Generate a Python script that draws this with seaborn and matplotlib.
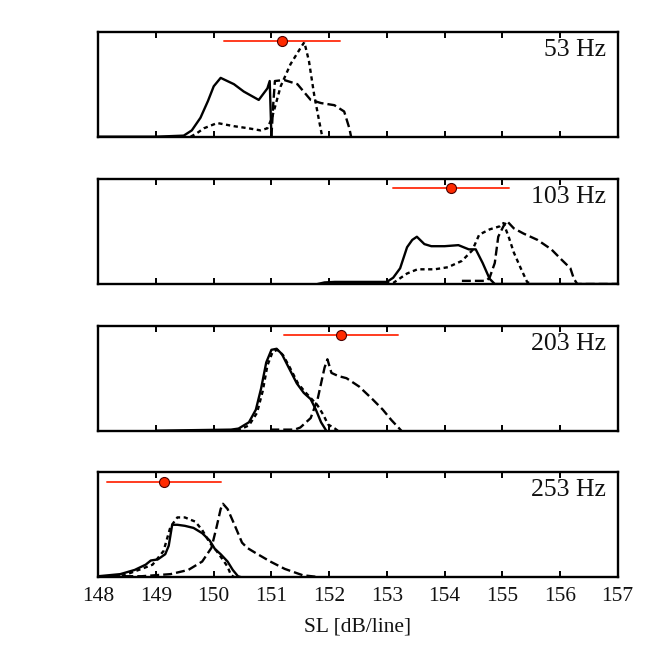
import numpy as np
import pandas as pd
import matplotlib
matplotlib.use("Agg")
import matplotlib.pyplot as plt
import matplotlib.transforms as mtransforms
import seaborn as sns

# ---------------- data ----------------
freq_labels = ["53 Hz", "103 Hz", "203 Hz", "253 Hz"]
sl_center = [151.18, 154.11, 152.21, 149.14]
sl_halfwidth = [1.0, 1.0, 0.99, 0.99]

# panel 1 (53 Hz)
p1_solid_x = [148.0, 149.0, 149.48, 149.62, 149.77, 149.9, 150.0, 150.12, 150.35, 150.52, 150.78, 150.93, 150.97, 151.0]
p1_solid_y = [0, 0, 0.01, 0.06, 0.18, 0.34, 0.48, 0.56, 0.5, 0.43, 0.35, 0.46, 0.53, 0]
p1_dot_x = [149.6, 149.7, 149.83, 150.06, 150.35, 150.6, 150.81, 150.93, 151.01, 151.16, 151.33, 151.51, 151.57, 151.65, 151.74, 151.83, 151.88]
p1_dot_y = [0, 0.03, 0.08, 0.13, 0.1, 0.08, 0.06, 0.08, 0.18, 0.48, 0.69, 0.85, 0.9, 0.72, 0.4, 0.14, 0]
p1_dash_x = [151.0, 151.03, 151.06, 151.22, 151.45, 151.68, 151.86, 152.09, 152.26, 152.35, 152.38]
p1_dash_y = [0, 0.3, 0.53, 0.54, 0.5, 0.35, 0.32, 0.3, 0.24, 0.08, 0]

# panel 2 (103 Hz)
p2_solid_x = [151.8, 151.92, 152.1, 153.0, 153.11, 153.23, 153.35, 153.44, 153.52, 153.65, 153.77, 154.0, 154.24, 154.42, 154.54, 154.66, 154.78, 154.87, 157.0]
p2_solid_y = [0, 0.015, 0.02, 0.02, 0.06, 0.15, 0.35, 0.42, 0.45, 0.38, 0.36, 0.36, 0.37, 0.33, 0.33, 0.2, 0.05, 0, 0]
p2_dot_x = [152.7, 153.11, 153.35, 153.53, 153.83, 154.06, 154.3, 154.48, 154.6, 154.78, 154.96, 155.02, 155.11, 155.2, 155.32, 155.43, 155.5]
p2_dot_y = [0, 0.01, 0.1, 0.14, 0.14, 0.16, 0.22, 0.32, 0.47, 0.52, 0.55, 0.58, 0.45, 0.3, 0.15, 0.02, 0]
p2_dash_x = [154.3, 154.72, 154.78, 154.87, 154.93, 155.02, 155.08, 155.2, 155.37, 155.61, 155.85, 156.03, 156.18, 156.24, 156.3, 157.0]
p2_dash_y = [0.03, 0.03, 0.06, 0.2, 0.45, 0.55, 0.6, 0.53, 0.48, 0.42, 0.33, 0.23, 0.15, 0.05, 0, 0]

# panel 3 (203 Hz)
p3_solid_x = [149.0, 150.3, 150.43, 150.61, 150.73, 150.82, 150.91, 151.0, 151.09, 151.18, 151.3, 151.44, 151.56, 151.68, 151.77, 151.86, 151.95]
p3_solid_y = [0, 0.01, 0.02, 0.08, 0.2, 0.4, 0.65, 0.77, 0.78, 0.73, 0.6, 0.45, 0.36, 0.3, 0.2, 0.08, 0]
p3_dot_x = [150.4, 150.61, 150.75, 150.85, 150.93, 151.02, 151.1, 151.2, 151.32, 151.46, 151.58, 151.7, 151.8, 151.9, 151.98, 152.1, 152.15]
p3_dot_y = [0, 0.05, 0.17, 0.38, 0.62, 0.75, 0.77, 0.72, 0.6, 0.45, 0.37, 0.3, 0.24, 0.15, 0.06, 0.02, 0]
p3_dash_x = [150.98, 151.4, 151.5, 151.68, 151.8, 151.92, 151.97, 152.04, 152.16, 152.3, 152.52, 152.75, 152.93, 153.08, 153.2, 153.25]
p3_dash_y = [0.01, 0.01, 0.03, 0.12, 0.3, 0.6, 0.68, 0.55, 0.52, 0.5, 0.42, 0.3, 0.2, 0.1, 0.03, 0]

# panel 4 (253 Hz)
p4_solid_x = [148.0, 148.38, 148.63, 148.82, 148.91, 149.03, 149.16, 149.22, 149.28, 149.37, 149.5, 149.65, 149.8, 149.93, 150.02, 150.12, 150.24, 150.33, 150.42, 150.48]
p4_solid_y = [0.01, 0.03, 0.07, 0.12, 0.16, 0.17, 0.22, 0.3, 0.5, 0.5, 0.49, 0.47, 0.42, 0.35, 0.27, 0.22, 0.15, 0.07, 0.01, 0]
p4_dot_x = [148.0, 148.45, 148.75, 148.94, 149.13, 149.25, 149.37, 149.5, 149.68, 149.8, 149.93, 150.05, 150.18, 150.24, 150.3, 150.36]
p4_dot_y = [0, 0.02, 0.08, 0.12, 0.25, 0.48, 0.57, 0.57, 0.53, 0.45, 0.33, 0.25, 0.15, 0.1, 0.02, 0]
p4_dash_x = [148.0, 148.75, 149.25, 149.56, 149.8, 149.96, 150.05, 150.12, 150.16, 150.24, 150.36, 150.49, 150.58, 150.73, 150.98, 151.23, 151.54, 151.85, 152.3]
p4_dash_y = [0.01, 0.01, 0.03, 0.07, 0.15, 0.28, 0.48, 0.65, 0.7, 0.65, 0.5, 0.33, 0.28, 0.23, 0.15, 0.08, 0.02, 0, 0]

x_ticks = [148, 149, 150, 151, 152, 153, 154, 155, 156, 157]
x_label = "SL [dB/line]"

panels = [
    (p1_solid_x, p1_solid_y, p1_dot_x, p1_dot_y, p1_dash_x, p1_dash_y),
    (p2_solid_x, p2_solid_y, p2_dot_x, p2_dot_y, p2_dash_x, p2_dash_y),
    (p3_solid_x, p3_solid_y, p3_dot_x, p3_dot_y, p3_dash_x, p3_dash_y),
    (p4_solid_x, p4_solid_y, p4_dot_x, p4_dot_y, p4_dash_x, p4_dash_y),
]

# ---------------- style ----------------
sns.set_theme(style="white")
plt.rcParams["font.family"] = ["Liberation Serif", "DejaVu Serif"]

fig = plt.figure(figsize=(6.72, 6.49), dpi=100)
ax_left, ax_width = 0.1463, 0.7729
ax_bottoms = [0.7894, 0.5624, 0.3364, 0.1105]
ax_height = 0.1618

dash_map = {"solid": "", "dotted": (1.8, 1.5), "dashed": (3.8, 1.7)}

for i, (sx, sy, dx, dy, hx, hy) in enumerate(panels):
    ax = fig.add_axes([ax_left, ax_bottoms[i], ax_width, ax_height])
    df = pd.concat([
        pd.DataFrame({"SL": sx, "p": sy, "kind": "solid"}),
        pd.DataFrame({"SL": dx, "p": dy, "kind": "dotted"}),
        pd.DataFrame({"SL": hx, "p": hy, "kind": "dashed"}),
    ], ignore_index=True)
    sns.lineplot(data=df, x="SL", y="p", style="kind", dashes=dash_map,
                 color="black", linewidth=1.7, sort=False, estimator=None,
                 legend=False, ax=ax)

    trans = mtransforms.blended_transform_factory(ax.transData, ax.transAxes)
    c, hw = sl_center[i], sl_halfwidth[i]
    ax.plot([c - hw, c + hw], [0.91, 0.91], color="#ff3b1f", lw=1.4,
            transform=trans, zorder=5, clip_on=False)
    ax.plot([c], [0.91], marker="o", ms=7.2, mfc="#ff2a00", mec="#4a0000",
            mew=0.8, transform=trans, zorder=6, clip_on=False)

    ax.text(0.9775, 0.83, freq_labels[i], transform=ax.transAxes,
            ha="right", va="center", fontsize=18.5, color="#111111")

    ax.set_xlim(148, 157)
    ax.set_ylim(0, 1)
    ax.set_xticks(x_ticks)
    ax.set_yticks([])
    ax.tick_params(axis="x", direction="in", top=True, bottom=True,
                   length=4, width=1.4, color="black", labelsize=15.5,
                   labelcolor="#111111", pad=7)
    for sp in ax.spines.values():
        sp.set_color("black")
        sp.set_linewidth(1.7)
    ax.set_ylabel("")
    if i < 3:
        ax.set_xticklabels([])
        ax.set_xlabel("")
    else:
        ax.set_xticklabels([str(t) for t in x_ticks])
        ax.set_xlabel(x_label, fontsize=15.5, color="#111111", labelpad=8)

fig.savefig("out.png", dpi=100, facecolor="white")
